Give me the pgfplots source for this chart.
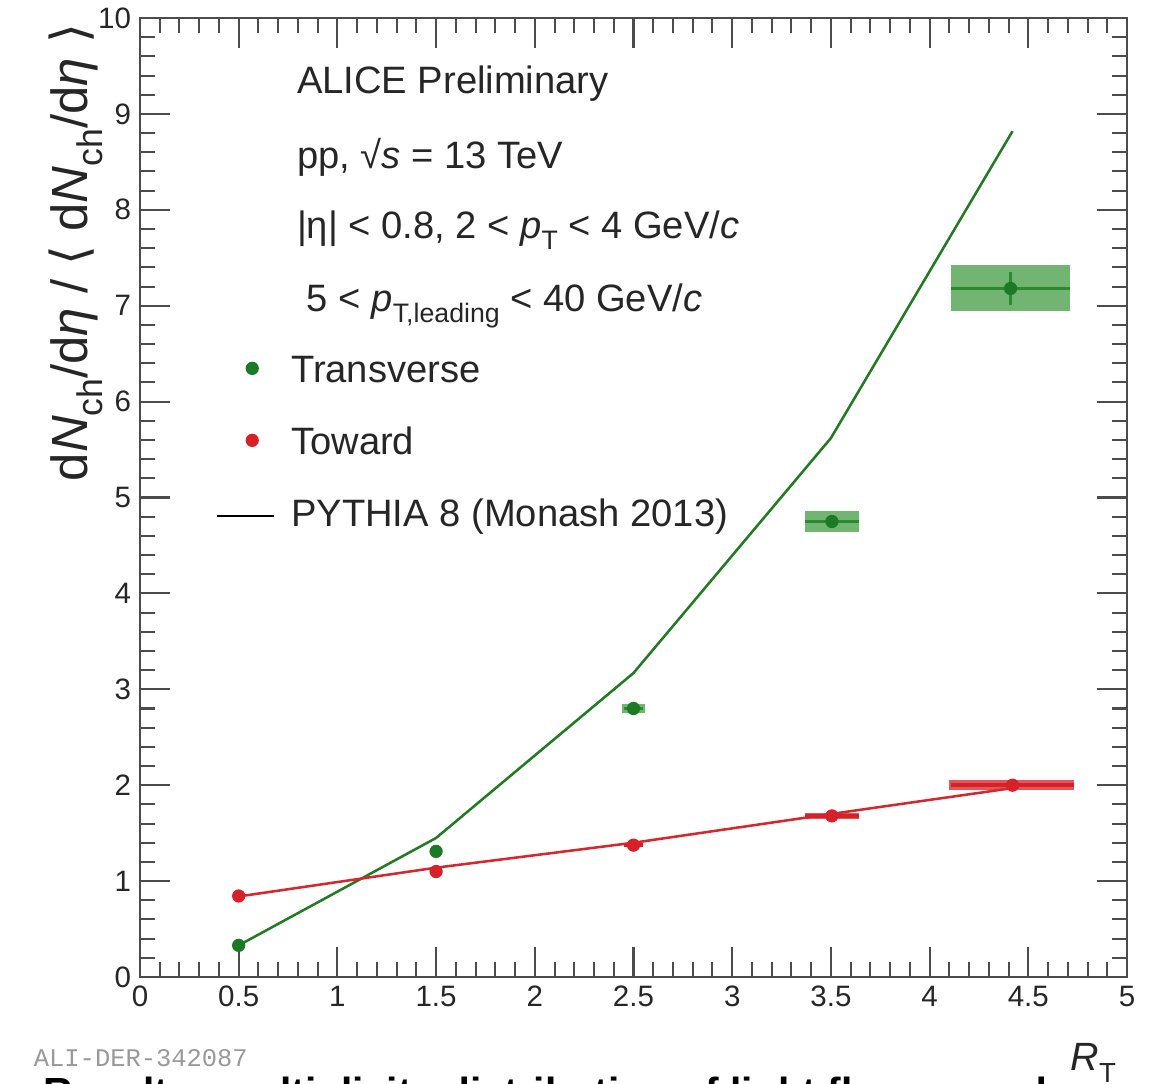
\documentclass[border=0pt]{standalone}
\usepackage{fontspec}
\setmainfont{Liberation Sans}
\newfontfamily\monofont{Liberation Mono}
\newfontfamily\djv{DejaVu Sans}
\usepackage{graphicx}
\usepackage{pgfplots}
\pgfplotsset{compat=1.18}
\usepackage{xcolor}
\definecolor{tgreen}{HTML}{1C7A27}
\definecolor{tgreendark}{HTML}{2A8A2E}
\definecolor{tgreenline}{HTML}{247A24}
\definecolor{tgreenbox}{HTML}{72B472}
\definecolor{tred}{HTML}{D6202A}
\definecolor{tredline}{HTML}{D42830}
\definecolor{tredbox}{HTML}{E25858}
\newcommand{\rsub}[1]{\raisebox{-0.55ex}{\scalebox{0.7}{#1}}}

\begin{document}
\begin{tikzpicture}
\begin{axis}[
  scale only axis, width=13.638cm, height=13.250cm,
  xmin=0, xmax=5, ymin=0, ymax=10,
  xtick={0,0.5,1,1.5,2,2.5,3,3.5,4,4.5,5},
  ytick={0,1,2,3,4,5,6,7,8,9,10},
  minor x tick num=4, minor y tick num=4,
  tick align=inside, tick pos=both,
  major tick length=0.42cm, minor tick length=0.21cm,
  every tick/.style={line width=0.8pt, color=black!70},
  axis line style={line width=0.8pt, color=black!70},
  /pgf/number format/assume math mode=true,
  ticklabel style={font=\fontsize{11.6}{13}\selectfont, color=black!85},
  xlabel={\textit{R}\rsub{T}},
  xlabel style={at={(axis description cs:0.998,-0.098)}, anchor=base east,
    font=\fontsize{15.5}{18}\selectfont, color=black!85},
  ylabel={d\textit{N}\rsub{ch}/d\textit{η} / {\djv ⟨} d\textit{N}\rsub{ch}/d\textit{η} {\djv ⟩}},
  ylabel style={at={(axis description cs:-0.053,1.003)}, anchor=base east,
    font=\fontsize{20}{24}\selectfont, color=black!85},
  legend style={at={(axis cs:0.38,6.50)}, anchor=north west, draw=none, fill=none,
    inner sep=0pt, row sep=14.3pt, column sep=0.22cm,
    font=\fontsize{15}{18}\selectfont, text=black!85,
    nodes={text height=11pt, text depth=3pt, inner sep=0pt}},
  legend cell align=left,
]
% systematic boxes
\addplot[fill=tgreenbox, draw=none, forget plot] coordinates {(2.44,2.75) (2.56,2.75) (2.56,2.85) (2.44,2.85)};
\addplot[fill=tgreenbox, draw=none, forget plot] coordinates {(3.37,4.64) (3.64,4.64) (3.64,4.86) (3.37,4.86)};
\addplot[fill=tgreenbox, draw=none, forget plot] coordinates {(4.11,6.94) (4.71,6.94) (4.71,7.42) (4.11,7.42)};
\addplot[fill=tredbox, draw=none, forget plot] coordinates {(2.45,1.36) (2.55,1.36) (2.55,1.39) (2.45,1.39)};
\addplot[fill=tredbox, draw=none, forget plot] coordinates {(3.37,1.65) (3.64,1.65) (3.64,1.71) (3.37,1.71)};
\addplot[fill=tredbox, draw=none, forget plot] coordinates {(4.10,1.95) (4.73,1.95) (4.73,2.05) (4.10,2.05)};
% PYTHIA 8 (Monash 2013)
\addplot[tgreenline, line width=1pt, forget plot] coordinates {(0.5,0.33) (1.5,1.45) (2.5,3.17) (3.5,5.62) (4.42,8.82)};
\addplot[tredline, line width=1pt, forget plot] coordinates {(0.5,0.84) (1.5,1.14) (2.5,1.40) (3.5,1.70) (4.42,1.97)};
% data, transverse
\addplot[only marks, mark=*, mark size=2.4pt, color=tgreen, forget plot,
  error bars/.cd, x dir=both, x explicit, y dir=both, y explicit,
  error bar style={line width=1.4pt, color=tgreendark}, error mark=none]
  coordinates {(0.5,0.33) +- (0,0) (1.5,1.31) +- (0,0) (2.5,2.80) +- (0.05,0.02)
               (3.505,4.75) +- (0.135,0.04) (4.41,7.18) +- (0.30,0.17)};
% data, toward
\addplot[only marks, mark=*, mark size=2.4pt, color=tred, forget plot,
  error bars/.cd, x dir=both, x explicit, y dir=both, y explicit,
  error bar style={line width=1.4pt, color=tred}, error mark=none]
  coordinates {(0.5,0.845) +- (0,0) (1.5,1.10) +- (0,0) (2.5,1.375) +- (0.05,0)
               (3.505,1.68) +- (0.135,0) (4.42,2.0) +- (0.31,0)};
\addlegendimage{legend image code/.code={\path[draw=none, fill=none] (0cm,0cm) -- (0.79cm,0cm);
  \draw[mark=*, mark size=2.4pt, tgreen] plot coordinates {(0.49cm,0.05cm)};}}
\addlegendentry{Transverse}
\addlegendimage{legend image code/.code={\path[draw=none, fill=none] (0cm,0cm) -- (0.79cm,0cm);
  \draw[mark=*, mark size=2.4pt, tred] plot coordinates {(0.49cm,0.05cm)};}}
\addlegendentry{Toward}
\addlegendimage{legend image code/.code={\draw[black, line width=1pt] (0cm,0cm) -- (0.79cm,0cm);}}
\addlegendentry{PYTHIA 8 (Monash 2013)}
% header text
\node[anchor=base west, font=\fontsize{15}{18}\selectfont, text=black!85] at (axis cs:0.75,9.21) {ALICE Preliminary};
\node[anchor=base west, font=\fontsize{15}{18}\selectfont, text=black!85] at (axis cs:0.75,8.43) {pp, √\textit{s} = 13 TeV};
\node[anchor=base west, font=\fontsize{15}{18}\selectfont, text=black!85] at (axis cs:0.75,7.70) {|η| < 0.8, 2 < \textit{p}\rsub{T} < 4 GeV/\textit{c}};
\node[anchor=base west, font=\fontsize{15}{18}\selectfont, text=black!85] at (axis cs:0.80,6.94) {5 < \textit{p}\rsub{T,leading} < 40 GeV/\textit{c}};
\end{axis}
\node[anchor=base west, font=\monofont\fontsize{10}{12}\selectfont, text=black!40] at (-1.589cm,-1.243cm) {ALI-DER-342087};
\begin{scope}
\clip (-1.934cm,-1.465cm) rectangle (14.066cm,13.499cm);
\node[anchor=base west, font=\bfseries\fontsize{16}{19}\selectfont] at (-1.451cm,-1.79cm) {Results: multiplicity distribution of light flavour and};
\end{scope}
\pgfresetboundingbox
\path[use as bounding box] (-1.934cm,-1.465cm) rectangle (14.066cm,13.499cm);
\end{tikzpicture}
\end{document}
